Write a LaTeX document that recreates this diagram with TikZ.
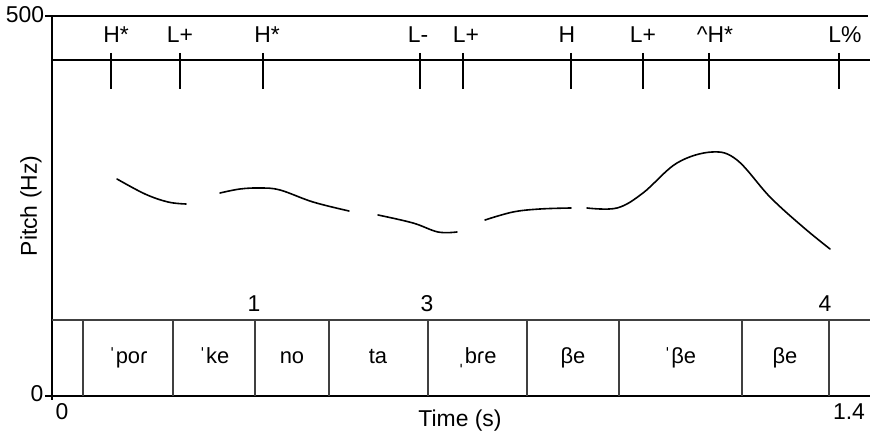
\documentclass[tikz,border=0pt]{standalone}
\usepackage{fontspec}
\setmainfont{Liberation Sans}
\usetikzlibrary{positioning}
\tikzstyle{tonebox} = [draw=none, rectangle, inner sep=0, anchor=base, font=\fontsize{11.5}{13}\selectfont]
\tikzstyle{numbox} = [draw=none, rectangle, inner sep=0, anchor=base, font=\fontsize{11.5}{13}\selectfont]
\tikzstyle{syllbox} = [draw=none, rectangle, inner sep=0, anchor=base, font=\fontsize{11}{13}\selectfont]
\tikzstyle{axisline} = [line width=0.8bp]
\tikzstyle{tierline} = [line width=0.6bp, draw=black!75]
\tikzstyle{tonetick} = [line width=1.4bp]
\tikzstyle{pitchline} = [line width=0.8bp, line cap=round]

\begin{document}
\begin{tikzpicture}[x=0.5bp, y=-0.5bp]
    \useasboundingbox (0,0) rectangle (870,433);
    % Axes and tone tier
    \draw[axisline] (45,16) -- (52,16);
    \draw[axisline] (45,396) -- (52,396);
    \draw[axisline] (52,16) -- (52,400);
    \draw[axisline] (52,16) -- (868,16);
    \draw[axisline] (52,60) -- (870,60);
    \draw[axisline] (52,396) -- (870,396);
    \draw[tierline] (52,320) -- (870,320);
    % Tone ticks
    \draw[tonetick] (111,53) -- (111,89);
    \draw[tonetick] (180,53) -- (180,89);
    \draw[tonetick] (263,53) -- (263,89);
    \draw[tonetick] (420,53) -- (420,89);
    \draw[tonetick] (463,53) -- (463,89);
    \draw[tonetick] (571,53) -- (571,89);
    \draw[tonetick] (643,53) -- (643,89);
    \draw[tonetick] (709,53) -- (709,89);
    \draw[tonetick] (839,53) -- (839,89);
    % Tone labels
    \node[tonebox] (H1) at (116,43) {H*};
    \node[tonebox] (L1) at (180,43) {L+};
    \node[tonebox] (H2) at (267,43) {H*};
    \node[tonebox] (L2) at (418,43) {L-};
    \node[tonebox] (L3) at (466,43) {L+};
    \node[tonebox] (H3) at (567,43) {H};
    \node[tonebox] (L4) at (643,43) {L+};
    \node[tonebox] (H4) at (715,43) {\textasciicircum H*};
    \node[tonebox] (L5) at (845,43) {L\%};
    % Pitch track
    \draw[pitchline] plot[smooth, tension=0.6] coordinates {(117,179) (145,194) (168,202) (186,204)};
    \draw[pitchline] plot[smooth, tension=0.6] coordinates {(220,193) (240,189) (260,188) (280,190) (313,202) (349,211)};
    \draw[pitchline] plot[smooth, tension=0.6] coordinates {(378,215) (413,223) (438,232) (457,232)};
    \draw[pitchline] plot[smooth, tension=0.6] coordinates {(485,220) (513,212) (540,209) (571,208)};
    \draw[pitchline] plot[smooth, tension=0.6] coordinates {(587,208) (617,208) (643,193) (677,163) (712,152) (737,160) (770,197) (803,227) (830,249)};
    % Syllable tier
    \draw[tierline] (83,320) -- (83,396);
    \draw[tierline] (173,320) -- (173,396);
    \draw[tierline] (255,320) -- (255,396);
    \draw[tierline] (329,320) -- (329,396);
    \draw[tierline] (428,320) -- (428,396);
    \draw[tierline] (527,320) -- (527,396);
    \draw[tierline] (619,320) -- (619,396);
    \draw[tierline] (742,320) -- (742,396);
    \draw[tierline] (829,320) -- (829,396);
    \node[numbox] (B1) at (254,312) {1};
    \node[numbox] (B3) at (427,312) {3};
    \node[numbox] (B4) at (825,312) {4};
    \node[syllbox] (S1) at (128,364) {ˈpoɾ};
    \node[syllbox] (S2) at (214,364) {ˈke};
    \node[syllbox] (S3) at (292,364) {no};
    \node[syllbox] (S4) at (378,364) {ta};
    \node[syllbox] (S5) at (477,364) {ˌbɾe};
    \node[syllbox] (S6) at (573,364) {βe};
    \node[syllbox] (S7) at (680,364) {ˈβe};
    \node[syllbox] (S8) at (785,364) {βe};
    % Axis labels
    \node[numbox] (Ymax) at (25,23) {500};
    \node[numbox] (Ymin) at (37,402) {0};
    \node[numbox] (Xmin) at (62,420) {0};
    \node[numbox] (Xmax) at (849,420) {1.4};
    \node[numbox] (Xlab) at (460,427) {Time (s)};
    \node[numbox, anchor=center, rotate=90] (Ylab) at (31,206) {Pitch (Hz)};
\end{tikzpicture}
\end{document}
